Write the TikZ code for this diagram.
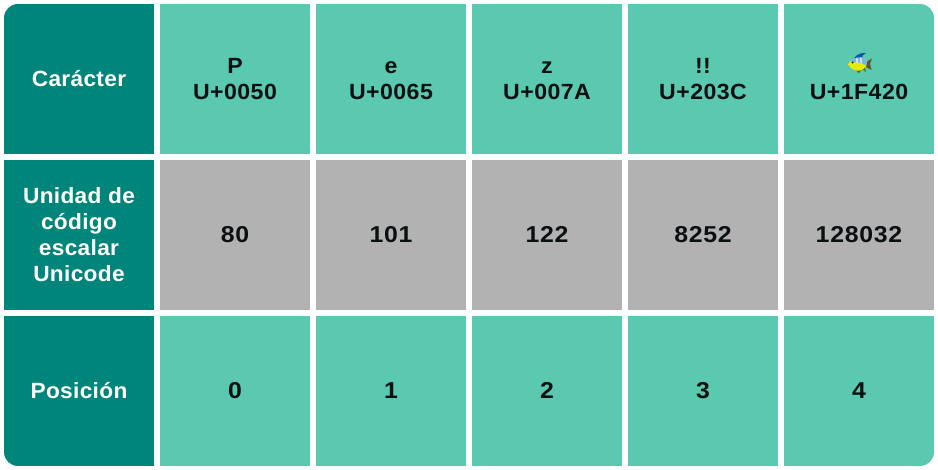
\documentclass[tikz,border=0pt]{standalone}
\usepackage{fontspec}
\setmainfont{Liberation Sans}
\newfontfamily\wordfont[FakeStretch=1.03,LetterSpace=1.5]{Liberation Sans}
\newfontfamily\codefont[FakeStretch=1.05,LetterSpace=2]{Liberation Sans}
\newfontfamily\digitfont[FakeStretch=1.08,LetterSpace=3.2]{Liberation Sans}
\definecolor{headteal}{HTML}{00857A}
\definecolor{cellmint}{HTML}{5AC9AF}
\definecolor{cellgrey}{HTML}{B2B2B2}
\definecolor{inkblack}{HTML}{0A0F12}
\tikzset{
  cellbase/.style={minimum width=150pt,minimum height=150pt,inner sep=0pt,outer sep=0pt,align=center,text=inkblack},
  mint/.style={cellbase,fill=cellmint},
  grey/.style={cellbase,fill=cellgrey},
  head/.style={cellbase,fill=headteal,text=white,font=\wordfont\fontsize{22}{26}\selectfont\bfseries},
  codecell/.style={inner sep=0pt,align=center,text=inkblack,font=\codefont\fontsize{22}{25}\selectfont\bfseries},
  numcell/.style={text height=16pt,text depth=0pt,font=\digitfont\fontsize{23}{26}\selectfont\bfseries},
}
\begin{document}
\begin{tikzpicture}[x=1pt,y=-1pt]
\useasboundingbox (0,0) rectangle (938,470);
\fill[white] (0,0) rectangle (938,470);
\begin{scope}
\clip[rounded corners=14pt] (4,4) rectangle (934,466);
\node[head] (h1) at (79,79) {Carácter};
\node[head] (h2) at (79,235) {Unidad de\\código\\escalar\\Unicode};
\node[head] (h3) at (79,391) {Posición};
\node[mint] (c1) at (235,79) {};
\node[mint] (c2) at (391,79) {};
\node[mint] (c3) at (547,79) {};
\node[mint] (c4) at (703,79) {};
\node[mint] (c5) at (859,79) {};
\node[grey,numcell] (u1) at (235,235) {80};
\node[grey,numcell] (u2) at (391,235) {101};
\node[grey,numcell] (u3) at (547,235) {122};
\node[grey,numcell] (u4) at (703,235) {8252};
\node[grey,numcell] (u5) at (859,235) {128032};
\node[mint,numcell] (p1) at (235,391) {0};
\node[mint,numcell] (p2) at (391,391) {1};
\node[mint,numcell] (p3) at (547,391) {2};
\node[mint,numcell] (p4) at (703,391) {3};
\node[mint,numcell] (p5) at (859,391) {4};
\end{scope}
\node[codecell,anchor=base] (c1a) at (235,74) {P};
\node[codecell,anchor=base] (c1b) at (235,100) {U+0050};
\node[codecell,anchor=base] (c2a) at (391,74) {e};
\node[codecell,anchor=base] (c2b) at (391,100) {U+0065};
\node[codecell,anchor=base] (c3a) at (547,74) {z};
\node[codecell,anchor=base] (c3b) at (547,100) {U+007A};
\node[codecell,anchor=base] (c4a) at (703,74) {!!};
\node[codecell,anchor=base] (c4b) at (703,100) {U+203C};
\node[codecell,anchor=base] (c5b) at (859,100) {U+1F420};
% fish emoji
\fill[black!45!olive] (866,62) -- (872,58.5) -- (870,64) -- (871.5,70) -- (866,67) -- cycle;
\fill[black!40!olive] (856,70) -- (859,73.5) -- (861,70) -- cycle;
\fill[black!30!olive] (862,69) -- (866,72) -- (865,68) -- cycle;
\fill[blue!35!teal] (854,58) .. controls (857,54) and (862,52.5) .. (866,53) .. controls (863,54) and (862,56) .. (862,58) -- cycle;
\fill[yellow!90!green] (848,64.5) .. controls (851,58) and (862,55.5) .. (866.5,60) .. controls (868,64) and (866,69) .. (860,70.5) .. controls (855,71.5) and (850,68.5) .. (848,64.5) -- cycle;
\fill[cyan!70!blue!55!white] (850.5,61.5) .. controls (853.5,57) and (862,55.5) .. (866.5,60) .. controls (867,62) and (867,64) .. (866.5,65.5) .. controls (862,62.5) and (856,62.5) .. (850.5,61.5) -- cycle;
\fill[white,opacity=.7] (856,58.5) -- (857.5,58) -- (858,63) -- (856.5,63) -- cycle;
\fill[white,opacity=.7] (860,57.5) -- (861.5,57.5) -- (862,63.5) -- (860.5,63.5) -- cycle;
\fill[black] (852.5,62.5) circle[radius=1];
\end{tikzpicture}
\end{document}
